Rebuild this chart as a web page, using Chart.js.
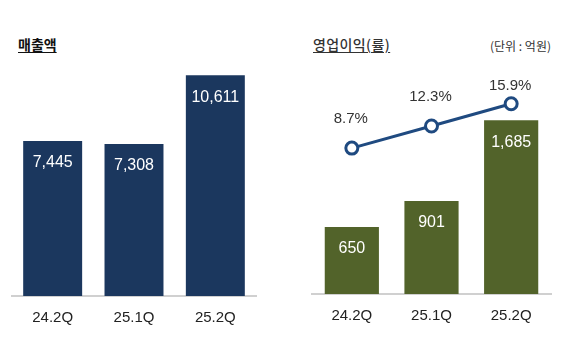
<!DOCTYPE html>
<html>
<head>
<meta charset="utf-8">
<script src="https://cdn.jsdelivr.net/npm/chart.js@4.4.1/dist/chart.umd.min.js"></script>
<style>
    body { margin: 0; background: #fff; width: 562px; height: 337px; position: relative; overflow: hidden; }
    .box { position: absolute; top: 0; height: 340px; }
    .title { position: absolute; font-family: "Noto Sans CJK KR", sans-serif; font-size: 14px; line-height: 20px; color: #111; text-decoration: underline; text-underline-offset: 2px; }
    .unit { position: absolute; font-family: "Noto Sans CJK KR", sans-serif; font-size: 12px; line-height: 20px; color: #333; }
</style>
</head>
<body>
<div class="title" style="left:18px; top:34px; font-weight:bold;">매출액</div>
<div class="title" style="left:313px; top:34px; font-weight:500; color:#333; letter-spacing:0.4px;">영업이익(률)</div>
<div class="unit" style="left:490px; top:36px;">(단위 : 억원)</div>
<div class="box" style="left:0; width:270px;"><canvas id="salesChart"></canvas></div>
<div class="box" style="left:282px; width:280px;"><canvas id="profitChart"></canvas></div>
<script>
const quarters = ["24.2Q", "25.1Q", "25.2Q"];
const sales = [7445, 7308, 10611];
const opProfit = [650, 901, 1685];
const opMargin = [8.7, 12.3, 15.9];

const numFont = '"Liberation Sans", Arial, sans-serif';

// writes values inside bars and above line points
const valueLabels = {
    id: "valueLabels",
    afterDatasetsDraw(chart, args, opts) {
        const c = chart.ctx;
        chart.data.datasets.forEach((ds, i) => {
            const meta = chart.getDatasetMeta(i);
            meta.data.forEach((el, j) => {
                c.save();
                c.textAlign = "center";
                c.textBaseline = "middle";
                if (ds.type === "line") {
                    c.font = "15px " + numFont;
                    c.fillStyle = "#333";
                    c.fillText(ds.data[j].toFixed(1) + "%", el.x - 1, el.y - opts.lineOffsets[j]);
                } else {
                    c.font = "16px " + numFont;
                    c.fillStyle = "#fff";
                    c.fillText(ds.data[j].toLocaleString("en-US"), el.x, el.y + 22);
                }
                c.restore();
            });
        });
    }
};

const xAxis = {
    grid: { display: false, drawTicks: false },
    border: { display: true, color: "#d0d0d0", width: 2 },
    ticks: { color: "#222", font: { family: numFont, size: 15 }, padding: 13 }
};

new Chart(document.getElementById("salesChart"), {
    type: "bar",
    data: {
        labels: quarters,
        datasets: [{
            data: sales,
            backgroundColor: "#1b375e",
            barPercentage: 0.725,
            categoryPercentage: 1
        }]
    },
    options: {
        responsive: true,
        maintainAspectRatio: false,
        animation: false,
        layout: { padding: { left: 12, right: 14, top: 65, bottom: 0 } },
        plugins: { legend: { display: false }, tooltip: { enabled: false }, valueLabels: { lineOffsets: [] } },
        scales: {
            x: xAxis,
            y: { display: false, min: 0, max: 11100 }
        }
    },
    plugins: [valueLabels]
});

new Chart(document.getElementById("profitChart"), {
    type: "bar",
    data: {
        labels: quarters,
        datasets: [
            {
                type: "line",
                data: opMargin,
                yAxisID: "y2",
                borderColor: "#1f4a80",
                borderWidth: 3,
                pointRadius: 6,
                pointBorderWidth: 3,
                pointBackgroundColor: "#fff",
                pointBorderColor: "#1f4a80",
                order: 0
            },
            {
                data: opProfit,
                backgroundColor: "#52632a",
                barPercentage: 0.68,
                categoryPercentage: 1,
                order: 1
            }
        ]
    },
    options: {
        responsive: true,
        maintainAspectRatio: false,
        animation: false,
        layout: { padding: { left: 30, right: 11, top: 65, bottom: 2 } },
        plugins: { legend: { display: false }, tooltip: { enabled: false }, valueLabels: { lineOffsets: [29, 29, 18] } },
        scales: {
            x: xAxis,
            y: { display: false, min: 0, max: 2220 },
            y2: { display: false, min: -15, max: 22.2 }
        }
    },
    plugins: [valueLabels]
});
</script>
</body>
</html>
